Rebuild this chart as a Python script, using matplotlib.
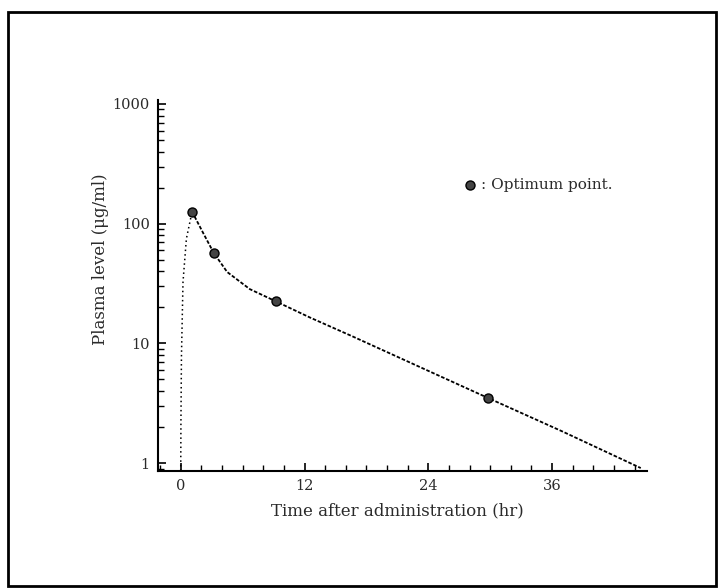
import numpy as np
import matplotlib.pyplot as plt
from matplotlib.patches import Rectangle
from matplotlib.ticker import LogLocator, NullFormatter, FixedLocator, MultipleLocator

# --- data ---
# absorption phase (fast rise)
rise_time = [0.0, 0.02, 0.07, 0.22, 0.55, 1.1]
rise_level = [0.86, 2.2, 7.8, 32.6, 75, 126]

# elimination phase
fall_time = [1.1, 2.1, 3.2, 4.5, 6.7, 9.2, 12.5, 16.7, 24.0, 29.8, 37.0, 44.6]
fall_level = [126, 86, 57, 39.5, 28.4, 22.5, 16.5, 11.4, 5.9, 3.5, 1.84, 0.91]

# optimum sampling points
opt_time = [1.1, 3.2, 9.2, 29.8]
opt_level = [126, 57, 22.5, 3.5]

x_ticks = [0, 12, 24, 36]
y_ticks = [1, 10, 100, 1000]
y_tick_labels = ["1", "10", "100", "1000"]

plt.rcParams['font.family'] = ['DejaVu Serif']
text_color = '#2a2a2a'

fig = plt.figure(figsize=(7.19, 5.88), dpi=100)
ax = fig.add_axes([0.2198, 0.199, 0.680, 0.631])

# scan border around the whole figure
fig.patches.append(Rectangle((0.011, 0.004), 0.985, 0.976, transform=fig.transFigure,
                             fill=False, edgecolor='black', linewidth=2))

ax.plot(rise_time, rise_level, color='black', linestyle=(0, (1, 2)), linewidth=1.1)
ax.plot(fall_time, fall_level, color='black', linestyle=(0, (2, 1)), linewidth=1.3)
ax.plot(opt_time, opt_level, 'o', color='#444444', markeredgecolor='black', markersize=6.5)

ax.set_yscale('log')
ax.set_xlim(-2.2, 45.2)
ax.set_ylim(0.86, 1080)

ax.xaxis.set_major_locator(FixedLocator(x_ticks))
ax.xaxis.set_minor_locator(MultipleLocator(2))
ax.yaxis.set_major_locator(FixedLocator(y_ticks))
ax.set_yticklabels(y_tick_labels)
ax.yaxis.set_minor_locator(LogLocator(base=10, subs=np.arange(2, 10)))
ax.yaxis.set_minor_formatter(NullFormatter())

ax.tick_params(axis='both', which='major', direction='in', length=6, width=1.2,
               labelsize=10.5, colors='black', labelcolor=text_color, pad=6)
ax.tick_params(axis='both', which='minor', direction='in', length=4, width=1.0)

for side in ['top', 'right']:
    ax.spines[side].set_visible(False)
for side in ['left', 'bottom']:
    ax.spines[side].set_linewidth(1.5)

ax.set_xlabel("Time after administration (hr)", fontsize=12, color=text_color)
ax.set_ylabel("Plasma level (\u03bcg/ml)", fontsize=12, color=text_color)
ax.xaxis.set_label_coords(0.49, -0.085)
ax.yaxis.set_label_coords(-0.10, 0.57)

# legend-like annotation
ax.plot([0.638], [0.771], 'o', transform=ax.transAxes, color='#444444',
        markeredgecolor='black', markersize=6.5, clip_on=False)
ax.text(0.66, 0.771, ": Optimum point.", transform=ax.transAxes, fontsize=11,
        color=text_color, va='center', ha='left')

fig.savefig('out.png', dpi=100)
